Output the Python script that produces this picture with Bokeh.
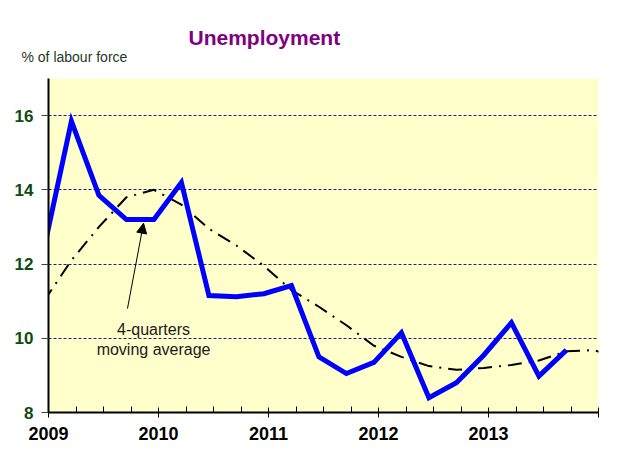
from bokeh.plotting import figure
from bokeh.models import FixedTicker, Label, Range1d, Title, Arrow, NormalHead
from bokeh.embed import file_html
from bokeh.resources import INLINE

# ---- data ----
# quarterly observations (last month of each quarter)
obs_months = ["2008-12", "2009-03", "2009-06", "2009-09", "2009-12",
              "2010-03", "2010-06", "2010-09", "2010-12",
              "2011-03", "2011-06", "2011-09", "2011-12",
              "2012-03", "2012-06", "2012-09", "2012-12",
              "2013-03", "2013-06", "2013-09"]
unemployment = [12.4, 15.85, 13.85, 13.2, 13.2,
                14.2, 11.15, 11.12, 11.2,
                11.42, 9.5, 9.05, 9.35,
                10.15, 8.4, 8.8, 9.55,
                10.42, 8.98, 9.68]

ma_months = obs_months + ["2013-12", "2014-03"]
moving_avg = [11.0, 12.1, 13.0, 13.8, 14.0,
              13.6, 12.95, 12.5, 11.95,
              11.3, 10.85, 10.35, 9.8,
              9.5, 9.25, 9.15, 9.2,
              9.28, 9.4, 9.65, 9.68, 9.45]

year_ticks = [2009, 2010, 2011, 2012, 2013, 2014]
quarter_ticks = [2009.25, 2009.5, 2009.75, 2010.25, 2010.5, 2010.75,
                 2011.25, 2011.5, 2011.75, 2012.25, 2012.5, 2012.75,
                 2013.25, 2013.5, 2013.75]
y_ticks = [8, 10, 12, 14, 16]
grid_levels = [10, 12, 14, 16]


def to_year(s):
    y, m = s.split("-")
    return int(y) + (int(m) - 0.5) / 12.0


x_obs = [to_year(s) for s in obs_months]
x_ma = [to_year(s) for s in ma_months]

FONT = "Liberation Sans"

p = figure(width=610, height=450, output_backend="svg", toolbar_location=None,
           x_range=Range1d(2009, 2014), y_range=Range1d(8, 17))
p.min_border_left = 48
p.min_border_right = 12
p.min_border_top = 78
p.min_border_bottom = 38

p.background_fill_color = "#FFFFCC"
p.border_fill_color = "white"
p.outline_line_color = None

# axes
p.xaxis.ticker = FixedTicker(ticks=year_ticks, minor_ticks=quarter_ticks)
p.xaxis.major_label_overrides = {2014: ""}
p.xaxis.axis_line_width = 2
p.xaxis.axis_line_color = "black"
p.xaxis.major_tick_in = 5
p.xaxis.major_tick_out = 5
p.xaxis.minor_tick_in = 6
p.xaxis.minor_tick_out = 0
p.xaxis.major_tick_line_color = "black"
p.xaxis.minor_tick_line_color = "black"
p.xaxis.major_label_text_font = FONT
p.xaxis.major_label_text_font_style = "bold"
p.xaxis.major_label_text_font_size = "18px"
p.xaxis.major_label_text_color = "black"
p.xaxis.major_label_standoff = 9

p.yaxis.ticker = FixedTicker(ticks=y_ticks)
p.yaxis.axis_line_width = 2
p.yaxis.axis_line_color = "black"
p.yaxis.major_tick_in = 0
p.yaxis.major_tick_out = 7
p.yaxis.minor_tick_line_color = None
p.yaxis.major_tick_line_color = "#404040"
p.yaxis.major_label_text_font = FONT
p.yaxis.major_label_text_font_style = "bold"
p.yaxis.major_label_text_font_size = "17px"
p.yaxis.major_label_text_color = "#0E4A12"
p.yaxis.major_label_standoff = 8

p.xgrid.grid_line_color = None
p.ygrid.ticker = FixedTicker(ticks=grid_levels)
p.ygrid.grid_line_color = "#1E1E80"
p.ygrid.grid_line_dash = "3 2"
p.ygrid.grid_line_width = 1

# series
p.line(x_ma, moving_avg, line_color="black", line_width=2, line_dash="14 7 2 7")
p.line(x_obs, unemployment, line_color="#0000FF", line_width=5, line_join="miter")

# annotation arrow
p.add_layout(Arrow(end=NormalHead(size=10, fill_color="black", line_color="black"),
                   x_start=2009.718, y_start=10.8, x_end=2009.864, y_end=13.1,
                   line_color="black", line_width=1))
p.add_layout(Label(x=2009.955, y=10.23, text="4-quarters", text_align="center",
                   text_baseline="alphabetic", text_font=FONT, text_font_size="16px",
                   text_color="#1a1a1a"))
p.add_layout(Label(x=2009.955, y=9.71, text="moving average", text_align="center",
                   text_baseline="alphabetic", text_font=FONT, text_font_size="16px",
                   text_color="#1a1a1a"))

# titles (first added sits closest to the frame)
p.add_layout(Title(text="% of labour force", align="left", offset=-27, standoff=28,
                   text_font=FONT, text_font_size="14px", text_font_style="normal",
                   text_color="#1C3A1C"), "above")
p.add_layout(Title(text="Unemployment", align="left", offset=140, standoff=-33,
                   text_font=FONT, text_font_size="21px", text_font_style="bold",
                   text_color="#800080"), "above")

open("out.html", "w").write(file_html(p, INLINE))
